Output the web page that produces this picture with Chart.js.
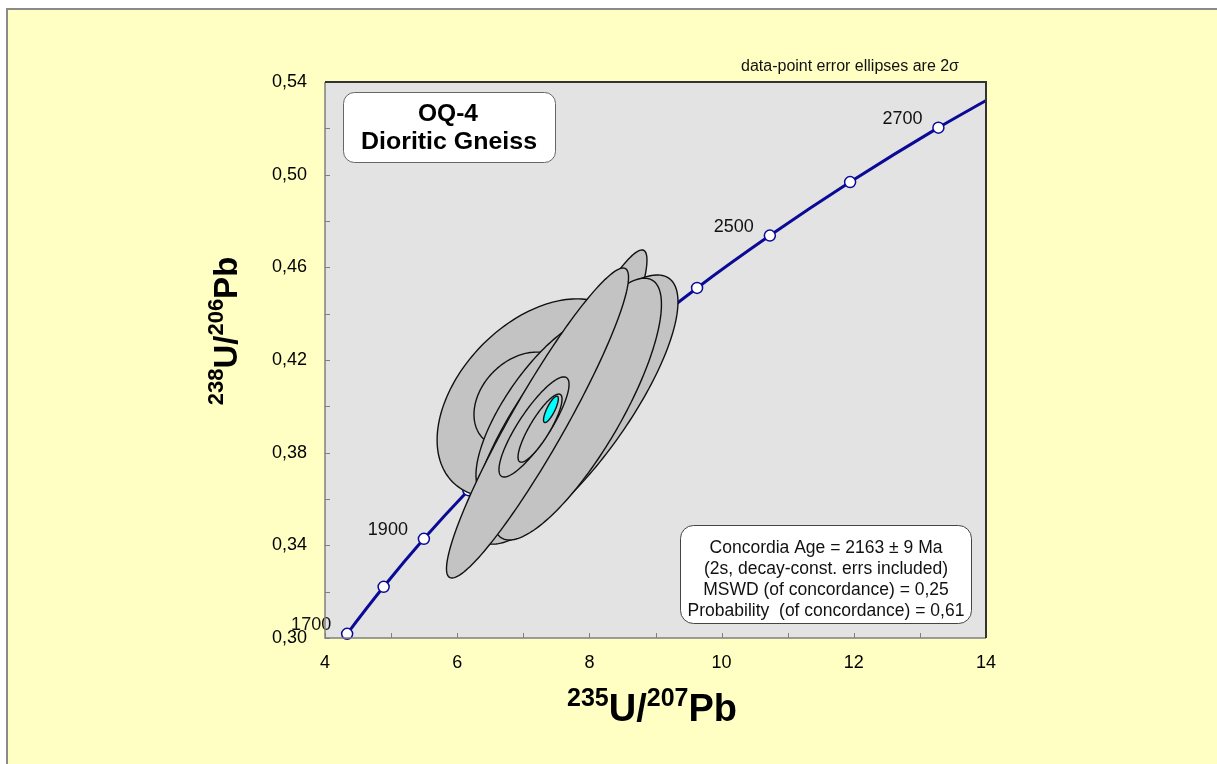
<!DOCTYPE html>
<html>
<head>
<meta charset="utf-8">
<script src="https://cdn.jsdelivr.net/npm/chart.js@4.4.1/dist/chart.umd.min.js"></script>
<style>
  html, body { margin: 0; padding: 0; background: #fff; }
</style>
</head>
<body>
<canvas id="myChart" width="1217" height="764"></canvas>
<script>
// concordia curve in 100 Ma steps, ends cut at the axis limits
const concordiaAge = [1691, 1700, 1800, 1900, 2000, 2100, 2200, 2300, 2400, 2500, 2600, 2700, 2750];
const concordiaX = [4.289, 4.335, 4.887, 5.496, 6.169, 6.911, 7.729, 8.633, 9.629, 10.730, 11.944, 13.280, 14.000];
const concordiaY = [0.3000, 0.3018, 0.3221, 0.3428, 0.3638, 0.3851, 0.4068, 0.4287, 0.4511, 0.4737, 0.4968, 0.5203, 0.5320];
const labelAges = [1700, 1900, 2500, 2700];

// analyses (2 sigma), in drawing order: centre, half extent in x and y, error correlation
const ellX   = [7.186, 6.980, 7.782, 7.313, 7.782, 7.812, 7.215, 7.162, 7.253];
const ellY   = [0.4035, 0.4027, 0.4049, 0.3994, 0.3986, 0.3988, 0.3928, 0.3911, 0.3906];
const ellSx  = [1.490, 0.726, 1.089, 1.029, 1.558, 1.278, 1.377, 0.530, 0.333];
const ellSy  = [0.0429, 0.0207, 0.0626, 0.0387, 0.0581, 0.0565, 0.0669, 0.0216, 0.0147];
const ellRho = [0.42, 0.30, 0.93, 0.75, 0.80, 0.80, 0.94, 0.85, 0.85];

// concordia age ellipse
const ageEll = { x: 7.418, y: 0.3987, sx: 0.112, sy: 0.0057, rho: 0.80 };

const xTickValues = [4, 6, 8, 10, 12, 14];
const xTickLabels = ['4', '6', '8', '10', '12', '14'];
const yTickValues = [30, 34, 38, 42, 46, 50, 54];
const yTickLabels = ['0,30', '0,34', '0,38', '0,42', '0,46', '0,50', '0,54'];

const legendLines = [
  'Concordia Age = 2163 \u00b1 9 Ma',
  '(2s, decay-const. errs included)',
  'MSWD (of concordance) = 0,25',
  'Probability  (of concordance) = 0,61'
];

const FONT = '"Liberation Sans", Arial, sans-serif';
const BLUE = '#0A0A96';

function ellipsePath(ctx, xs, ys, cx, cy, sx, sy, rho) {
  const r2 = Math.sqrt(1 - rho * rho);
  ctx.beginPath();
  for (let i = 0; i <= 180; i++) {
    const t = i / 180 * 2 * Math.PI;
    const px = xs.getPixelForValue(cx + sx * Math.cos(t));
    const py = ys.getPixelForValue(cy + sy * (rho * Math.cos(t) + r2 * Math.sin(t)));
    if (i === 0) ctx.moveTo(px, py); else ctx.lineTo(px, py);
  }
  ctx.closePath();
}

// text squeezed/stretched to a given width
function fitText(ctx, str, x, y, font, width, align) {
  ctx.save();
  ctx.font = font;
  const k = width ? width / ctx.measureText(str).width : 1;
  ctx.translate(x, y);
  ctx.scale(k, 1);
  ctx.textAlign = align || 'center';
  ctx.fillText(str, 0, 0);
  ctx.restore();
}

// isotope ratio title with superscript mass numbers, centred on 0
function isoTitle(ctx, parts, big, small, rise) {
  let total = 0;
  parts.forEach(p => { ctx.font = p[1] ? small : big; total += ctx.measureText(p[0]).width; });
  let x = -total / 2;
  ctx.textAlign = 'left';
  parts.forEach(p => {
    ctx.font = p[1] ? small : big;
    ctx.fillText(p[0], x, p[1] ? -rise : 0);
    x += ctx.measureText(p[0]).width;
  });
}

function roundRect(ctx, x, y, w, h, r) {
  ctx.beginPath();
  ctx.roundRect(x, y, w, h, r);
}

const backdrop = {
  id: 'backdrop',
  beforeDraw(chart) {
    const { ctx, chartArea: a } = chart;
    ctx.save();
    ctx.fillStyle = '#fff';
    ctx.fillRect(0, 0, chart.width, chart.height);
    ctx.fillStyle = '#FFFFC4';
    ctx.fillRect(8, 10, chart.width - 8, chart.height - 10);
    ctx.strokeStyle = '#8a8a8a';
    ctx.lineWidth = 2;
    ctx.beginPath();
    ctx.moveTo(7, chart.height); ctx.lineTo(7, 9); ctx.lineTo(chart.width, 9);
    ctx.stroke();
    ctx.fillStyle = '#E3E3E3';
    ctx.fillRect(a.left, a.top, a.right - a.left, a.bottom - a.top);
    ctx.restore();
  }
};

const overlay = {
  id: 'overlay',
  afterDatasetsDraw(chart) {
    const { ctx, scales: { x: xs, y: ys } } = chart;
    ctx.save();
    // age labels beside the concordia markers
    ctx.fillStyle = '#111';
    ctx.font = '18px ' + FONT;
    ctx.textAlign = 'center';
    ctx.textBaseline = 'middle';
    labelAges.forEach(age => {
      const i = concordiaAge.indexOf(age);
      ctx.fillText(String(age), xs.getPixelForValue(concordiaX[i]) - 36, ys.getPixelForValue(concordiaY[i]) - 9);
    });
    // error ellipses
    ctx.lineWidth = 1.4;
    ctx.strokeStyle = '#111';
    ctx.fillStyle = '#C3C3C3';
    for (let i = 0; i < ellX.length; i++) {
      ellipsePath(ctx, xs, ys, ellX[i], ellY[i], ellSx[i], ellSy[i], ellRho[i]);
      ctx.fill();
      ctx.stroke();
    }
    ctx.fillStyle = '#00FFFF';
    ellipsePath(ctx, xs, ys, ageEll.x, ageEll.y, ageEll.sx, ageEll.sy, ageEll.rho);
    ctx.fill();
    ctx.stroke();
    ctx.restore();
  },
  afterDraw(chart) {
    const { ctx, chartArea: a, scales: { x: xs, y: ys } } = chart;
    ctx.save();
    // inward tick marks
    ctx.strokeStyle = '#808080';
    ctx.lineWidth = 1;
    ctx.beginPath();
    xs.ticks.forEach(t => {
      const px = Math.round(xs.getPixelForValue(t.value)) + 0.5;
      ctx.moveTo(px, a.bottom); ctx.lineTo(px, a.bottom - 5);
    });
    ys.ticks.forEach(t => {
      const py = Math.round(ys.getPixelForValue(t.value)) + 0.5;
      ctx.moveTo(a.left, py); ctx.lineTo(a.left + 5, py);
    });
    ctx.stroke();
    // frame: grey axes, dark top and right edges
    ctx.lineWidth = 1.5;
    ctx.beginPath();
    ctx.moveTo(a.left, a.top); ctx.lineTo(a.left, a.bottom); ctx.lineTo(a.right, a.bottom);
    ctx.stroke();
    ctx.strokeStyle = '#333';
    ctx.lineWidth = 2;
    ctx.beginPath();
    ctx.moveTo(a.left, a.top); ctx.lineTo(a.right, a.top); ctx.lineTo(a.right, a.bottom);
    ctx.stroke();

    // sample box
    roundRect(ctx, 343.5, 92.5, 212, 70, 11);
    ctx.fillStyle = '#fff';
    ctx.fill();
    ctx.strokeStyle = '#666';
    ctx.lineWidth = 1;
    ctx.stroke();
    ctx.fillStyle = '#000';
    ctx.textBaseline = 'alphabetic';
    fitText(ctx, 'OQ-4', 448, 121, 'bold 23px ' + FONT, 60);
    fitText(ctx, 'Dioritic Gneiss', 449, 149, 'bold 23px ' + FONT, 176);

    // result box
    roundRect(ctx, 680.5, 525.5, 291, 98, 13);
    ctx.fillStyle = '#fff';
    ctx.fill();
    ctx.strokeStyle = '#444';
    ctx.stroke();
    ctx.fillStyle = '#111';
    ctx.font = '17.5px ' + FONT;
    ctx.textAlign = 'center';
    legendLines.forEach((s, i) => ctx.fillText(s, 826, 553 + i * 21));

    // note above the plot
    ctx.font = '16px ' + FONT;
    ctx.fillStyle = '#111';
    ctx.fillText('data-point error ellipses are 2\u03c3', 850, 71);

    // axis titles
    ctx.fillStyle = '#000';
    ctx.save();
    ctx.translate(652, 721);
    isoTitle(ctx, [['235', true], ['U/', false], ['207', true], ['Pb', false]], 'bold 38px ' + FONT, 'bold 25px ' + FONT, 15);
    ctx.restore();
    ctx.save();
    ctx.translate(237, 331);
    ctx.rotate(-Math.PI / 2);
    isoTitle(ctx, [['238', true], ['U/', false], ['206', true], ['Pb', false]], 'bold 33px ' + FONT, 'bold 22px ' + FONT, 14);
    ctx.restore();
    ctx.restore();
  }
};

const myChart = new Chart(document.getElementById('myChart'), {
  type: 'scatter',
  data: {
    datasets: [{
      data: concordiaX.map((x, i) => ({ x: x, y: concordiaY[i] })),
      showLine: true,
      cubicInterpolationMode: 'monotone',
      borderColor: BLUE,
      borderWidth: 3,
      pointRadius: concordiaAge.map(a => (a % 100 === 0 ? 5.5 : 0)),
      pointBackgroundColor: '#fff',
      pointBorderColor: BLUE,
      pointBorderWidth: 1.5,
      clip: false
    }]
  },
  options: {
    responsive: false,
    animation: false,
    devicePixelRatio: 1,
    layout: { padding: { left: 245, right: 231, top: 82, bottom: 86 } },
    plugins: { legend: { display: false }, tooltip: { enabled: false } },
    scales: {
      x: {
        type: 'linear', min: 4, max: 14,
        grid: { display: false, drawTicks: false },
        border: { display: false },
        ticks: {
          stepSize: 1, padding: 14, color: '#000', maxRotation: 0, autoSkip: false,
          font: { family: FONT, size: 18 },
          callback: v => { const i = xTickValues.indexOf(Math.round(v)); return i < 0 ? '' : xTickLabels[i]; }
        },
        afterFit: s => { s.height = 40; }
      },
      y: {
        type: 'linear', min: 0.30, max: 0.54,
        grid: { display: false, drawTicks: false },
        border: { display: false },
        ticks: {
          stepSize: 0.02, padding: 18, color: '#000', autoSkip: false,
          font: { family: FONT, size: 18 },
          callback: v => { const i = yTickValues.indexOf(Math.round(v * 100)); return i < 0 ? '' : yTickLabels[i]; }
        },
        afterFit: s => { s.width = 80; }
      }
    }
  },
  plugins: [backdrop, overlay]
});
</script>
</body>
</html>
